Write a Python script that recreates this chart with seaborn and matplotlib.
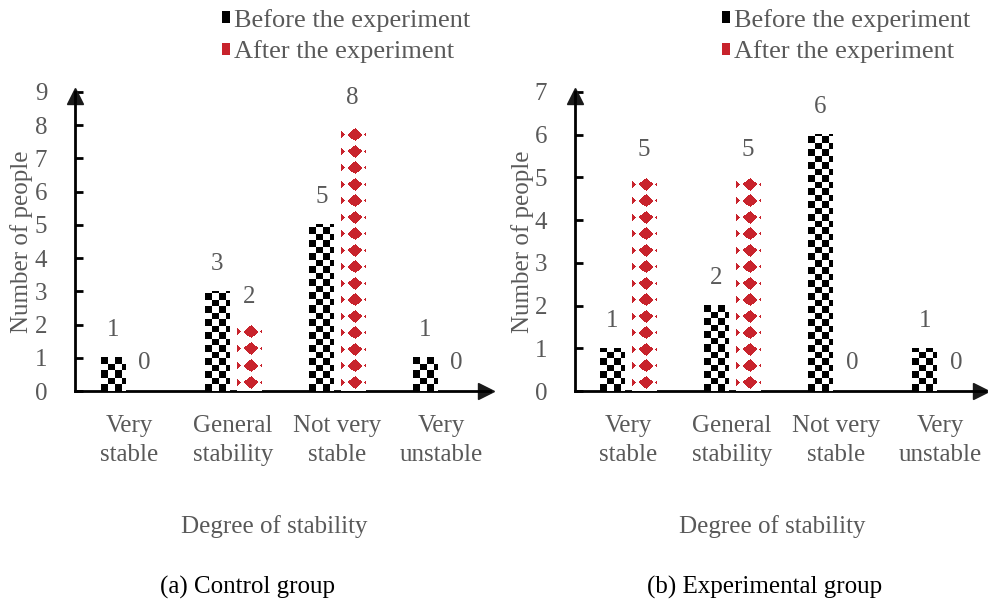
import numpy as np
import pandas as pd
import matplotlib
matplotlib.use("Agg")
import matplotlib.pyplot as plt
import seaborn as sns
from matplotlib.patches import Patch

categories = ["Very\nstable", "General\nstability", "Not very\nstable", "Very\nunstable"]
series = ["Before the experiment", "After the experiment"]
control_before = [1, 3, 5, 1]
control_after = [0, 2, 8, 0]
exp_before = [1, 2, 6, 1]
exp_after = [5, 5, 0, 0]
control_ticks = list(range(0, 10))
exp_ticks = list(range(0, 8))

GRAY = "#595959"
RED = "#C8232C"

sns.set_theme(style="white")
plt.rcParams["font.family"] = ["Liberation Serif", "DejaVu Serif"]


def make_frame(before, after):
    rows = []
    for c, b, a in zip(categories, before, after):
        rows.append({"cat": c, "group": series[0], "n": b})
        rows.append({"cat": c, "group": series[1], "n": a})
    return pd.DataFrame(rows)


def checker(w, h, size=6.5):
    yy, xx = np.mgrid[0:h, 0:w]
    m = ((np.floor(xx / size) + np.floor(yy / size)) % 2).astype(int)
    img = np.ones((h, w, 3))
    img[m == 0] = 0
    return img


def diamonds(w, h):
    yy, xx = np.mgrid[0:h, 0:w]
    yy = yy.astype(float)
    xx = xx.astype(float)
    py = (yy % 16.5) - 8.2
    m1 = np.abs(xx - 13) / 7.0 + np.abs(py) / 6.5 <= 1
    m2 = np.abs(xx + 1) / 4.5 + np.abs(py) / 4.5 <= 1
    m3 = np.abs(xx - 24) / 2.5 + np.abs(py) / 2.5 <= 1
    r, g, b = matplotlib.colors.to_rgb(RED)
    img = np.ones((h, w, 3))
    mask = m1 | m2 | m3
    img[mask] = (r, g, b)
    return img


def draw_panel(ax, before, after, ymax, ticks, xlim, pad_label):
    df = make_frame(before, after)
    sns.barplot(data=df, x="cat", y="n", hue="group", order=categories,
                hue_order=series, width=0.6, gap=0.22, ax=ax, legend=False,
                palette=["white", "white"], edgecolor="none", linewidth=0)
    ax.set_xlim(*xlim)
    ax.set_ylim(0, ymax)
    ax.set_yticks(ticks)
    # fill bars with the patterns, sized in screen pixels
    for k, cont in enumerate(ax.containers):
        for p in cont:
            x, w, h = p.get_x(), p.get_width(), p.get_height()
            if h <= 0:
                continue
            (x0, y0) = ax.transData.transform((x, 0))
            (x1, y1) = ax.transData.transform((x + w, h))
            wp = max(int(round(x1 - x0)), 1)
            hp = max(int(round(y1 - y0)), 1)
            img = checker(wp, hp) if k == 0 else diamonds(wp, hp)
            ax.imshow(img, extent=(x, x + w, 0, h), origin="lower",
                      aspect="auto", interpolation="none", zorder=3)
        ax.bar_label(cont, padding=pad_label, fontsize=18, color=GRAY)
    ax.set_xlim(*xlim)
    ax.set_ylim(0, ymax)

    sns.despine(ax=ax)
    ax.spines["left"].set_linewidth(2)
    ax.spines["bottom"].set_linewidth(2)
    ax.spines["left"].set_color("black")
    ax.spines["bottom"].set_color("black")
    ax.plot(0.99, 0, ">k", markersize=11, transform=ax.transAxes, clip_on=False)
    ax.plot(0, 0.985, "^k", markersize=11, transform=ax.transAxes, clip_on=False)

    ax.tick_params(axis="y", direction="in", length=6, width=2, pad=20,
                   labelsize=18, labelcolor=GRAY, left=True, color="black")
    ax.tick_params(axis="x", length=0, pad=17, labelsize=18, labelcolor=GRAY)
    for t in ax.get_xticklabels():
        t.set_linespacing(1.45)
    ax.set_ylabel("Number of people", fontsize=18, color=GRAY)
    ax.yaxis.set_label_coords(-0.1, 0.5)
    ax.set_xlabel("Degree of stability", fontsize=18, color=GRAY)
    ax.xaxis.set_label_coords(0.48, -0.415)
    ax.grid(False)


fig = plt.figure(figsize=(9.88, 6.04), dpi=100)
ax1 = fig.add_axes([75 / 988, 1 - 391 / 604, 415 / 988, 299 / 604])
ax2 = fig.add_axes([575 / 988, 1 - 391 / 604, 410 / 988, 299 / 604])

draw_panel(ax1, control_before, control_after, 9, control_ticks, (-0.52, 3.47), 12)
draw_panel(ax2, exp_before, exp_after, 7, exp_ticks, (-0.51, 3.43), 12)

fig.text(248 / 988, 1 - 587 / 604, "(a) Control group", ha="center", va="center",
         fontsize=18, color="black")
fig.text(765 / 988, 1 - 587 / 604, "(b) Experimental group", ha="center", va="center",
         fontsize=18, color="black")

handles = [Patch(facecolor="black", edgecolor="none"),
           Patch(facecolor=RED, edgecolor="none")]
for xa in (219 / 988, 719 / 988):
    fig.legend(handles, series, loc="upper left", bbox_to_anchor=(xa, 0.99),
               frameon=False, fontsize=19, labelcolor=GRAY, handlelength=0.33,
               handleheight=0.33, handletextpad=0.15, labelspacing=0.32,
               borderaxespad=0, borderpad=0.1)

fig.savefig("out.png", dpi=100)
